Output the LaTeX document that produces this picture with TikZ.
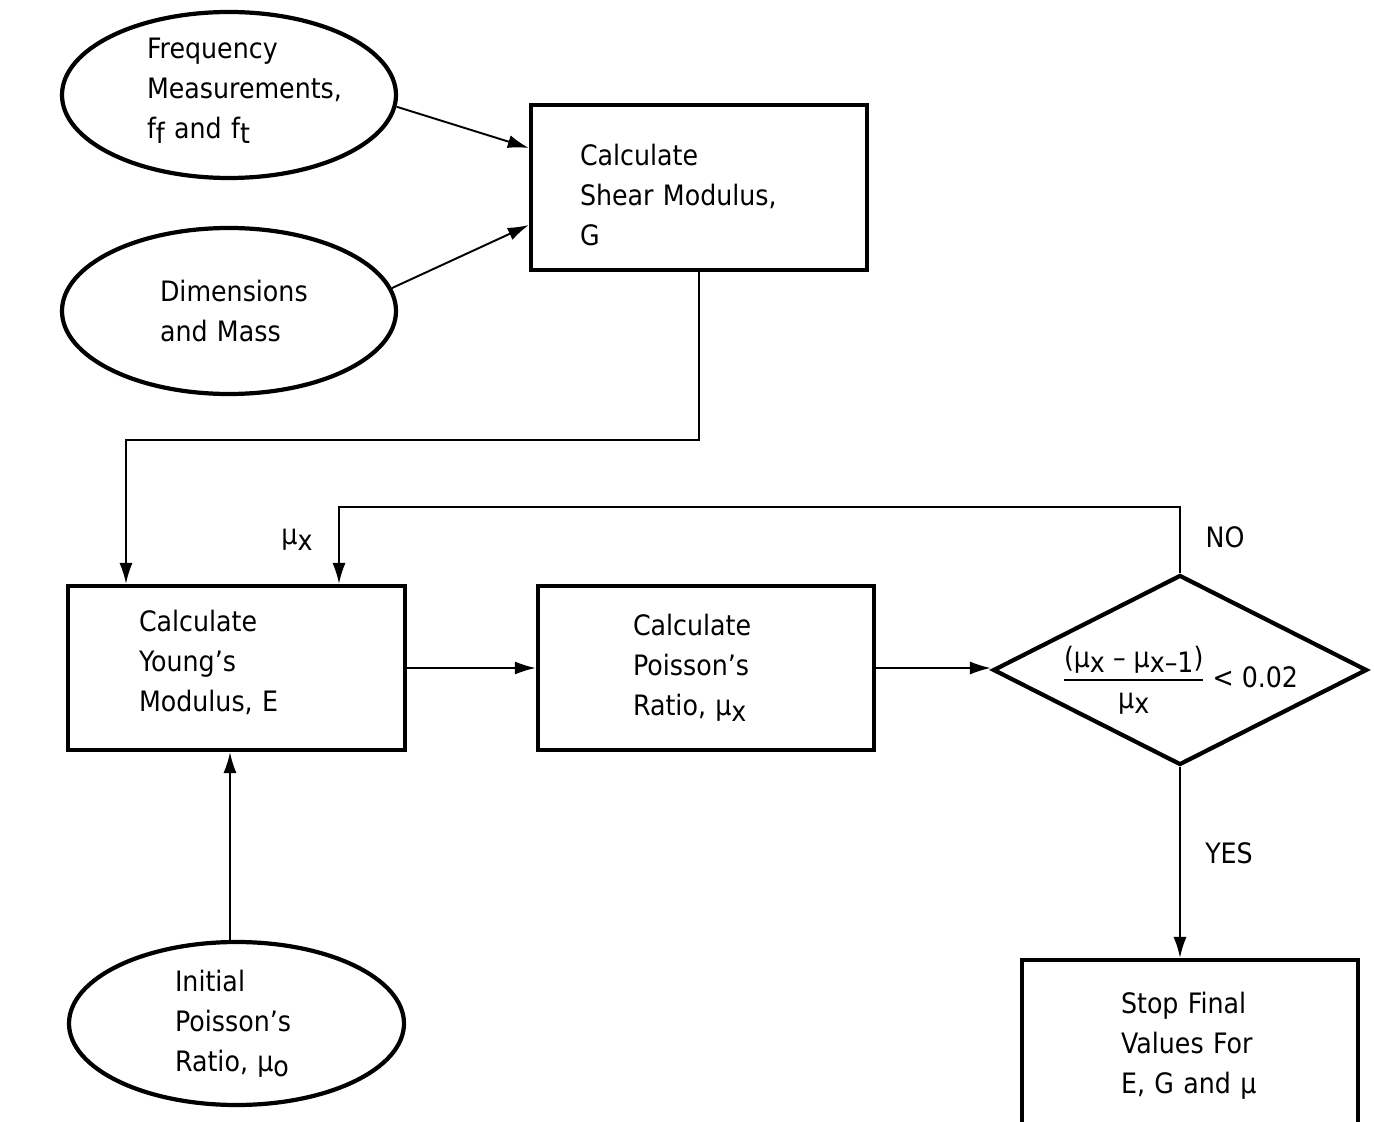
\documentclass[tikz,border=0pt]{standalone}
\usepackage{fontspec}
\setmainfont{DejaVu Sans}[FakeStretch=0.9]
\usepackage{amsmath}
\usetikzlibrary{arrows.meta,shapes.geometric}
\newcommand{\lowsub}[1]{\raisebox{-0.35ex}{#1}}

\begin{document}
\begin{tikzpicture}[font=\fontsize{16}{22.7}\selectfont,
  block/.style={rectangle, draw, line width=2.4pt, inner sep=0pt, align=left},
  input/.style={ellipse, draw, line width=2.4pt, inner sep=0pt, align=left},
  test/.style={diamond, draw, line width=2.4pt, inner sep=0pt, aspect=2},
  flow/.style={line width=1.1pt, -{Latex[length=12pt,width=7.5pt]}}]
  \useasboundingbox (0,0) rectangle (27.48,-22.44);
  \node[input, minimum width=6.68cm, minimum height=3.32cm, text width=3.28cm] (freq) at (4.58,-1.90) {Frequency\\Measurements,\\f\lowsub{f} and f\lowsub{t}\rule[-8pt]{0pt}{0pt}};
  \node[input, minimum width=6.68cm, minimum height=3.32cm, text width=2.76cm] (dim) at (4.58,-6.22) {Dimensions\\and Mass};
  \node[block, minimum width=6.72cm, minimum height=3.30cm, text width=4.76cm] (shear) at (13.98,-3.75) {\rule{0pt}{21pt}Calculate\\Shear Modulus,\\G};
  \node[block, minimum width=6.74cm, minimum height=3.28cm, text width=3.90cm] (young) at (4.73,-13.36) {Calculate\\Young’s\\Modulus, E\rule[-8pt]{0pt}{0pt}};
  \node[block, minimum width=6.72cm, minimum height=3.28cm, text width=2.92cm] (poisson) at (14.12,-13.36) {Calculate\\Poisson’s\\Ratio, μ\lowsub{x}};
  \node[test, minimum width=7.48cm, minimum height=3.80cm] (check) at (23.60,-13.40) {\raisebox{-0.2cm}[\height][\depth]{$\genfrac{}{}{0.9pt}{0}{\text{(μ\lowsub{x} – μ\lowsub{x–1})}}{\text{μ\lowsub{x}}}$\hspace{0.25em}< 0.02}};
  \node[block, minimum width=6.72cm, minimum height=3.44cm, text width=2.76cm] (stop) at (23.80,-20.92) {Stop Final\\Values For\\E, G and μ};
  \node[input, minimum width=6.70cm, minimum height=3.26cm, text width=2.46cm] (init) at (4.73,-20.47) {Initial\\Poisson’s\\Ratio, μ\lowsub{o}};
  \node (mulbl) at (5.94,-10.80) {μ\lowsub{x}};
  \node (nolbl) at (24.50,-10.74) {NO};
  \node (yeslbl) at (24.58,-17.06) {YES};
  \coordinate (gbend) at (13.98,-8.80);
  \coordinate (nobend) at (23.60,-10.14);
  \draw[flow] (freq.-4) -- ([yshift=0.79cm]shear.west);
  \draw[flow] (dim.8) -- ([yshift=-0.75cm]shear.west);
  \draw[flow] (shear.south) -- (gbend) -| ([xshift=-2.21cm]young.north);
  \draw[flow] (check.north) -- (nobend) -| ([xshift=2.05cm]young.north);
  \draw[flow] (young) -- (poisson);
  \draw[flow] (poisson) -- (poisson -| check.west);
  \draw[flow] (check.south) -- (check.south |- stop.north);
  \draw[flow] ([xshift=-0.13cm]init.north) -- ([xshift=-0.13cm]young.south);
\end{tikzpicture}
\end{document}
